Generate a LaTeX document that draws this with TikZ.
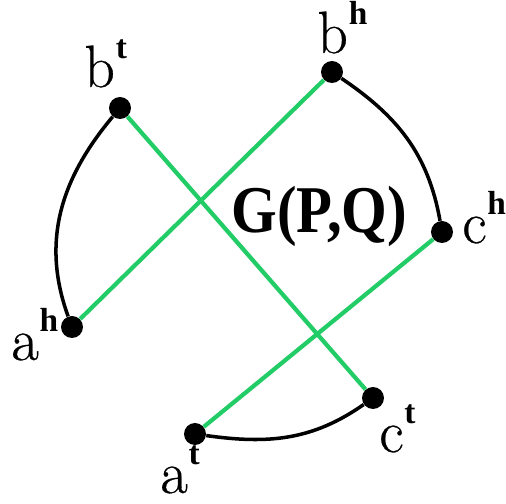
\documentclass[tikz,border=0pt]{standalone}
\usepackage{fontspec}
\newfontfamily\timesfont{Liberation Serif}
\newfontfamily\titlefont{Liberation Serif}[FakeStretch=0.88]
\newfontfamily\labfont{Latin Modern Roman}[FakeBold=0.5]
\usetikzlibrary{positioning}
\definecolor{matchgreen}{RGB}{34,204,102}
\newcommand{\vlab}[2]{#1\kern0.5pt\raisebox{16pt}{\timesfont\fontsize{19}{19}\selectfont\bfseries #2}}

\begin{document}
\begin{tikzpicture}[
    dot/.style={circle, fill=black, inner sep=0pt, minimum size=0.44cm},
    lbl/.style={anchor=base west, inner sep=0pt, font=\labfont\fontsize{34}{36}\selectfont},
    match/.style={matchgreen, line width=2.4pt},
    tie/.style={black, line width=2pt}]

    \useasboundingbox (0,0) rectangle (10.12,-10.08);

    % Vertices
    \node[dot] (bt) at (2.40,-2.16) {};
    \node[dot] (bh) at (6.64,-1.44) {};
    \node[dot] (ch) at (8.84,-4.64) {};
    \node[dot] (ah) at (1.44,-6.54) {};
    \node[dot] (at) at (3.90,-8.68) {};
    \node[dot] (ct) at (7.46,-7.96) {};

    % Labels
    \node[lbl] (btlab) at (1.68,-1.74) {\vlab{b}{t}};
    \node[lbl] (bhlab) at (6.34,-1.06) {\vlab{b}{h}};
    \node[lbl] (chlab) at (9.24,-4.86) {\vlab{c}{h}};
    \node[lbl] (ahlab) at (0.22,-7.20) {\vlab{a}{h}};
    \node[lbl] (atlab) at (3.20,-9.86) {\vlab{a}{t}};
    \node[lbl] (ctlab) at (7.58,-9.04) {\vlab{c}{t}};
    \node[anchor=base west, inner sep=0pt, font=\titlefont\bfseries\fontsize{38}{40}\selectfont] (gpq) at (4.62,-4.66) {G(P,Q)};

    % Matching edges
    \draw[match] (bt) -- (ct);
    \draw[match] (bh) -- (ah);
    \draw[match] (ch) -- (at);

    % Gene arcs
    \draw[tie] (bt) to[out=-130, in=110] (ah);
    \draw[tie] (bh) to[out=-34, in=100] (ch);
    \draw[tie] (at) to[out=-8, in=-145] (ct);

\end{tikzpicture}
\end{document}
